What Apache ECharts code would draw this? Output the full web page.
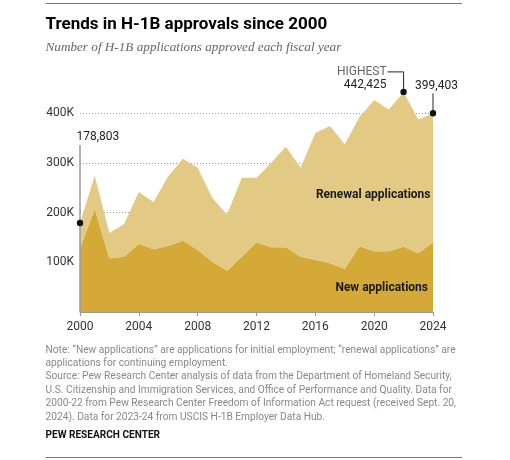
<!DOCTYPE html>
<html>
<head>
<meta charset="utf-8">
<script src="https://cdn.jsdelivr.net/npm/echarts@6/dist/echarts.min.js"></script>
<style>
  html, body { margin: 0; padding: 0; background: #fff; }
  #chart { width: 510px; height: 460px; }
</style>
</head>
<body>
<div id="chart"></div>
<script>
// fiscal years
var years = ['2000','2001','2002','2003','2004','2005','2006','2007','2008','2009','2010','2011','2012',
             '2013','2014','2015','2016','2017','2018','2019','2020','2021','2022','2023','2024'];
// new applications (initial employment)
var newApps = [128000, 207000, 108000, 111000, 137000, 126000, 133000, 143000, 125000, 101000, 83000, 111000, 140000,
               130000, 130000, 111000, 105000, 98000, 87000, 132000, 122000, 122000, 131000, 118000, 140000];
// renewal applications (continuing employment)
var renewalApps = [50803, 67000, 51000, 66000, 104000, 95000, 140000, 165000, 165000, 128000, 113000, 159000, 130000,
                   170000, 202000, 179000, 255000, 276000, 250000, 260000, 304000, 285000, 311425, 269000, 259403];
var yTicks = [0, 100000, 200000, 300000, 400000];

var FONT = 'Roboto, "Liberation Sans", Arial, sans-serif';
var chart = echarts.init(document.getElementById('chart'), null, { renderer: 'canvas' });

var option = {
	animation: false,
	backgroundColor: '#fff',
	grid: { left: 80, right: 77, top: 113, bottom: 148 },
	xAxis: {
		type: 'category',
		data: years,
		boundaryGap: false,
		axisLine: { lineStyle: { color: '#999', width: 1 } },
		axisTick: { interval: 3, length: 4, lineStyle: { color: '#999' } },
		axisLabel: { interval: 3, color: '#333', fontSize: 12, fontFamily: FONT, margin: 9 },
		splitLine: { show: false }
	},
	yAxis: {
		type: 'value',
		min: yTicks[0],
		max: yTicks[yTicks.length - 1],
		interval: 100000,
		axisLine: { show: false },
		axisTick: { show: false },
		axisLabel: {
			color: '#333', fontSize: 12, fontFamily: FONT, margin: 6,
			formatter: function (v) { return v === 0 ? '' : (v / 1000) + 'K'; }
		},
		splitLine: { lineStyle: { color: '#999', type: [1, 2], width: 1 } }
	},
	series: [{
		name: 'New applications',
		type: 'line',
		stack: 'total',
		data: newApps,
		symbol: 'none',
		clip: false,
		lineStyle: { width: 0 },
		areaStyle: { color: '#d4a937', opacity: 1 }
	}, {
		name: 'Renewal applications',
		type: 'line',
		stack: 'total',
		data: renewalApps,
		symbol: 'none',
		clip: false,
		lineStyle: { width: 0 },
		areaStyle: { color: '#e2ca85', opacity: 1 }
	}]
};
chart.setOption(option);

// annotations, placed through the chart's own scales
function totalAt(i) { return newApps[i] + renewalApps[i]; }
function fmt(n) { return n.toLocaleString('en-US'); }
var last = years.length - 1;
var peak = 0;
for (var i = 1; i < years.length; i++) { if (totalAt(i) > totalAt(peak)) peak = i; }

var base = chart.convertToPixel({ gridIndex: 0 }, [0, 0]);
var pFirst = chart.convertToPixel({ gridIndex: 0 }, [0, totalAt(0)]);
var pPeak = chart.convertToPixel({ gridIndex: 0 }, [peak, totalAt(peak)]);
var pLast = chart.convertToPixel({ gridIndex: 0 }, [last, totalAt(last)]);

function txt(x, y, s, size, color, weight, align, extra) {
	var o = {
		type: 'text', x: x, y: y, z: 10,
		style: { text: s, fontSize: size, fill: color, fontWeight: weight || 'normal',
			fontFamily: FONT, textAlign: align || 'left', textVerticalAlign: 'middle' }
	};
	if (extra) { for (var k in extra) o[k] = extra[k]; }
	return o;
}
function dot(p) {
	return { type: 'circle', z: 11, shape: { cx: p[0], cy: p[1], r: 3.2 }, style: { fill: '#111' } };
}

var notes = [
	'Note: \u201cNew applications\u201d are applications for initial employment; \u201crenewal applications\u201d are',
	'applications for continuing employment.',
	'Source: Pew Research Center analysis of data from the Department of Homeland Security,',
	'U.S. Citizenship and Immigration Services, and Office of Performance and Quality. Data for',
	'2000-22 from Pew Research Center Freedom of Information Act request (received Sept. 20,',
	'2024). Data for 2023-24 from USCIS H-1B Employer Data Hub.'
];

var g = [
	{ type: 'line', shape: { x1: 45.5, y1: 3.5, x2: 462, y2: 3.5 }, style: { stroke: '#777', lineWidth: 1 } },
	{ type: 'line', shape: { x1: 45.5, y1: 457.5, x2: 462, y2: 457.5 }, style: { stroke: '#777', lineWidth: 1 } },
	txt(45.5, 24.5, 'Trends in H-1B approvals since 2000', 17, '#000', 'bold', 'left'),
	{
		type: 'text', x: 45.5, y: 48,
		style: { text: 'Number of H-1B applications approved each fiscal year', fontSize: 13.2, fill: '#666',
			fontStyle: 'italic', fontFamily: '"Liberation Serif", "DejaVu Serif", serif', textVerticalAlign: 'middle' }
	},
	txt(430.5, 194.7, 'Renewal applications', 12, '#1a1a1a', 'bold', 'right'),
	txt(428, 288.3, 'New applications', 12, '#1a1a1a', 'bold', 'right'),

	// first year
	{ type: 'line', z: 10, shape: { x1: pFirst[0], y1: base[1], x2: pFirst[0], y2: 145 }, style: { stroke: '#999', lineWidth: 1.5 } },
	txt(pFirst[0] - 3.5, 136.7, fmt(totalAt(0)), 12, '#222'),
	dot(pFirst),

	// peak
	{ type: 'polyline', z: 10, shape: { points: [[pPeak[0], pPeak[1]], [pPeak[0], pPeak[1] - 20], [pPeak[0] - 16, pPeak[1] - 20]] },
	  style: { stroke: '#222', lineWidth: 1, fill: null } },
	txt(pPeak[0] - 17, pPeak[1] - 20, 'HIGHEST', 12, '#666', 'normal', 'right'),
	txt(pPeak[0] - 17, pPeak[1] - 7, fmt(totalAt(peak)), 12, '#222', 'normal', 'right'),
	dot(pPeak),

	// last year
	{ type: 'line', z: 10, shape: { x1: pLast[0], y1: pLast[1], x2: pLast[0], y2: pLast[1] - 20 }, style: { stroke: '#222', lineWidth: 1 } },
	txt(pLast[0] + 3.5, pLast[1] - 27.5, fmt(totalAt(last)), 12, '#222', 'normal', 'center'),
	dot(pLast),

	txt(45.5, 435.7, 'PEW RESEARCH CENTER', 10.5, '#111', 'bold', 'left', { scaleX: 0.96 })
];
for (var j = 0; j < notes.length; j++) {
	g.push(txt(45.5, 350 + j * 13.4, notes[j], 10.2, '#888', 'normal', 'left'));
}
chart.setOption({ graphic: g });
</script>
</body>
</html>
